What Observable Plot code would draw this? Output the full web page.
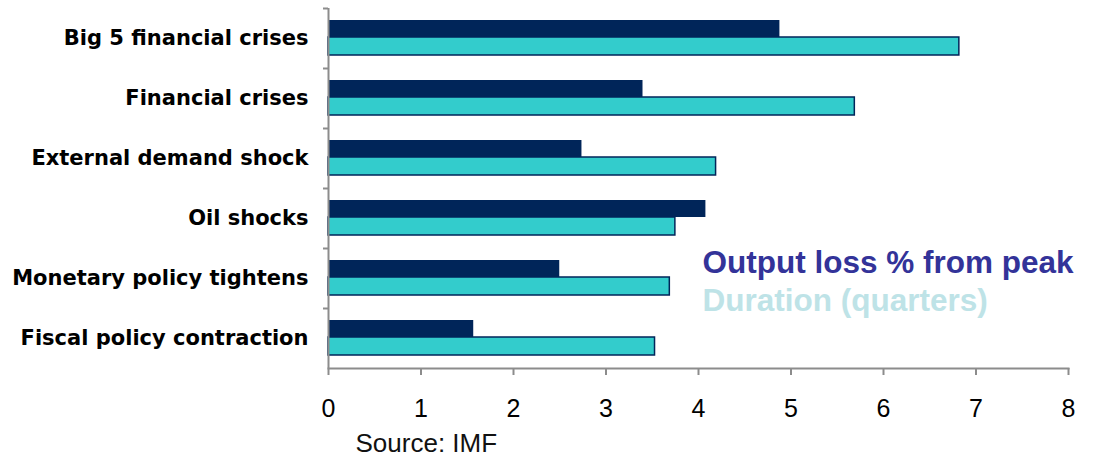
<!DOCTYPE html>
<html>
<head>
<meta charset="utf-8">
<script src="https://cdn.jsdelivr.net/npm/d3@7"></script>
<script src="https://cdn.jsdelivr.net/npm/@observablehq/plot@0.6"></script>
<style>
  html, body { margin: 0; padding: 0; background: #fff; }
  #chart svg { display: block; }
</style>
</head>
<body>
<div id="chart"></div>
<script>
// Recession types
const categories = [
  "Big 5 financial crises",
  "Financial crises",
  "External demand shock",
  "Oil shocks",
  "Monetary policy tightens",
  "Fiscal policy contraction"
];
// Output loss, % from peak
const outputLoss = [4.88, 3.40, 2.74, 4.08, 2.50, 1.57];
// Duration of the downturn, quarters
const duration = [6.82, 5.69, 4.19, 3.75, 3.69, 3.53];
const xTicks = [0, 1, 2, 3, 4, 5, 6, 7, 8];
const seriesNames = ["Output loss % from peak", "Duration (quarters)"];
const sourceNote = "Source: IMF";

const navy = "#002559";
const teal = "#33CCCC";
const axisGray = "#8c8c8c";

const lossRows = categories.map((c, i) => ({category: c, value: outputLoss[i]}));
const durRows = categories.map((c, i) => ({category: c, value: duration[i]}));

const chart = Plot.plot({
  width: 1094,
  height: 458,
  marginLeft: 328,
  marginRight: 26,
  marginTop: 8,
  marginBottom: 90,
  style: {fontFamily: "Liberation Sans, Arial, sans-serif", background: "#fff"},
  x: {domain: [0, 8]},
  y: {domain: categories, padding: 0},
  marks: [
    // output loss bars sit in the upper half of each band
    Plot.barX(lossRows, {
      x: "value", y: "category", fill: navy,
      insetTop: 12, insetBottom: 31
    }),
    // duration bars in the lower half, outlined in navy
    Plot.barX(durRows, {
      x: "value", y: "category", fill: teal,
      stroke: navy, strokeWidth: 1.5,
      insetTop: 29, insetBottom: 13
    }),
    // category labels
    Plot.axisY({
      tickSize: 0, tickPadding: 20, label: null,
      fontSize: 21, fontWeight: "bold", fill: "#000",
      fontFamily: "DejaVu Sans, sans-serif"
    }),
    // band boundary ticks on the y axis
    Plot.axisY({
      tickSize: 5, tickFormat: () => "", label: null,
      stroke: axisGray, strokeWidth: 2, dy: -30
    }),
    Plot.ruleX([0], {stroke: axisGray, strokeWidth: 2}),
    Plot.frame({anchor: "bottom", stroke: axisGray, strokeWidth: 2}),
    // x axis
    Plot.axisX({
      ticks: xTicks, tickSize: 7, tickPadding: 24,
      fontSize: 25, fill: "#000", stroke: axisGray, strokeWidth: 2,
      label: null
    }),
    // legend text
    Plot.text([seriesNames[0]], {
      frameAnchor: "top-left", dx: 374, dy: 254,
      text: d => d, fill: "#333399", fontSize: 31.5, fontWeight: "bold",
      textAnchor: "start", lineAnchor: "middle"
    }),
    Plot.text([seriesNames[1]], {
      frameAnchor: "top-left", dx: 374, dy: 292,
      text: d => d, fill: "#BEE3E7", fontSize: 31.5, fontWeight: "bold",
      textAnchor: "start", lineAnchor: "middle"
    }),
    // source note
    Plot.text([sourceNote], {
      frameAnchor: "bottom-left", dx: 27, dy: 75,
      text: d => d, fill: "#111", fontSize: 26,
      textAnchor: "start", lineAnchor: "middle"
    })
  ]
});

document.getElementById("chart").appendChild(chart);
</script>
</body>
</html>
